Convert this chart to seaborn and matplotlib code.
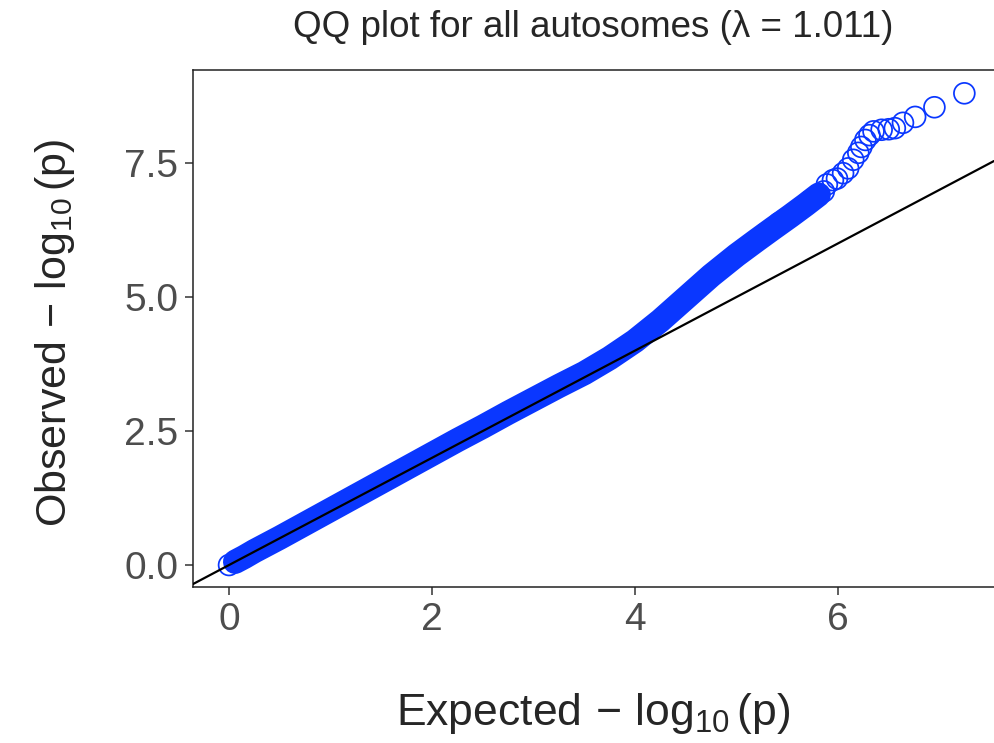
import matplotlib
matplotlib.use("Agg")
import matplotlib.pyplot as plt
import seaborn as sns
import pandas as pd

# ---- data ----
# dense part of the QQ curve (expected, observed -log10 p)
band_expected = [0.06, 0.15, 0.25, 0.50, 0.75, 1.00, 1.25, 1.50, 1.75, 2.00, 2.25, 2.50,
                 2.75, 3.00, 3.25, 3.50, 3.75, 4.00, 4.25, 4.50, 4.75, 5.00, 5.20,
                 5.36, 5.53, 5.68, 5.81]
band_observed = [0.06, 0.15, 0.26, 0.51, 0.77, 1.03, 1.29, 1.55, 1.81, 2.07, 2.33, 2.58,
                 2.84, 3.09, 3.34, 3.58, 3.86, 4.18, 4.56, 4.98, 5.40, 5.78, 6.06,
                 6.28, 6.51, 6.72, 6.91]
# sparse upper tail, individual SNPs
tail_expected = [0.00, 5.28, 5.42, 5.48, 5.58, 5.63, 5.72, 5.77,
                 5.86, 5.89, 5.95, 5.99, 6.05, 6.10, 6.15, 6.20, 6.23, 6.27,
                 6.31, 6.35, 6.43, 6.50, 6.56, 6.64, 6.76, 6.95, 7.245]
tail_observed = [0.00, 6.18, 6.38, 6.45, 6.58, 6.65, 6.79, 6.85,
                 6.97, 7.10, 7.18, 7.21, 7.31, 7.40, 7.56, 7.69, 7.80, 7.93,
                 8.02, 8.09, 8.12, 8.13, 8.15, 8.25, 8.36, 8.54, 8.80]
x_ticks = [0, 2, 4, 6]
y_ticks = [0.0, 2.5, 5.0, 7.5]
title = "QQ plot for all autosomes (\u03bb = 1.011)"

band = pd.DataFrame({"expected": band_expected, "observed": band_observed})
points = pd.DataFrame({"expected": tail_expected + band_expected,
                       "observed": tail_observed + band_observed})

sns.set_style("white")
plt.rcParams["font.family"] = ["Liberation Sans", "DejaVu Sans"]
plt.rcParams["mathtext.fontset"] = "custom"
plt.rcParams["mathtext.rm"] = "Liberation Sans"
plt.rcParams["mathtext.it"] = "Liberation Sans:italic"
plt.rcParams["mathtext.bf"] = "Liberation Sans:bold"

BLUE = "#0a37ff"

fig = plt.figure(figsize=(9.94, 7.43), dpi=100)
ax = fig.add_axes([193 / 994, 1 - 587 / 743, (994 - 193) / 994, (587 - 70) / 743])

# overlapping markers of the dense region form a solid band
sns.lineplot(data=band, x="expected", y="observed", ax=ax, color=BLUE,
             linewidth=17.5, solid_capstyle="round", sort=False,
             estimator=None, zorder=2)
sns.scatterplot(data=points, x="expected", y="observed", ax=ax, marker="o",
                s=225, facecolor="none", edgecolor=BLUE, linewidth=1.25,
                zorder=3)
ax.axline((0, 0), slope=1, color="black", linewidth=1.6, zorder=4)

ax.set_xlim(-0.355, 7.537)
ax.set_ylim(-0.41, 9.235)
ax.set_xticks(x_ticks)
ax.set_xticklabels([str(t) for t in x_ticks])
ax.set_yticks(y_ticks)
ax.set_yticklabels([f"{t:.1f}" for t in y_ticks])

for side in ["left", "top", "bottom"]:
    ax.spines[side].set_visible(True)
    ax.spines[side].set_color("#222222")
    ax.spines[side].set_linewidth(1.1)
ax.spines["right"].set_visible(False)

ax.tick_params(axis="both", length=5.5, width=1.1, color="#333333",
               labelsize=28, labelcolor="#4d4d4d", pad=5,
               bottom=True, left=True)

ax.set_xlabel(r"Expected$\,-\,\log_{10}(\mathrm{p})$", fontsize=32, va="center")
ax.xaxis.set_label_coords(0.5, -(713 - 587) / 517)
ax.set_ylabel(r"Observed$\,-\,\log_{10}(\mathrm{p})$", fontsize=31, va="center")
ax.yaxis.set_label_coords(-(193 - 55) / 801, (587 - 333) / 517)
ax.set_title(title, fontsize=26.5, y=(587 - 36) / 517, va="center")

fig.savefig("out.png", dpi=100)
